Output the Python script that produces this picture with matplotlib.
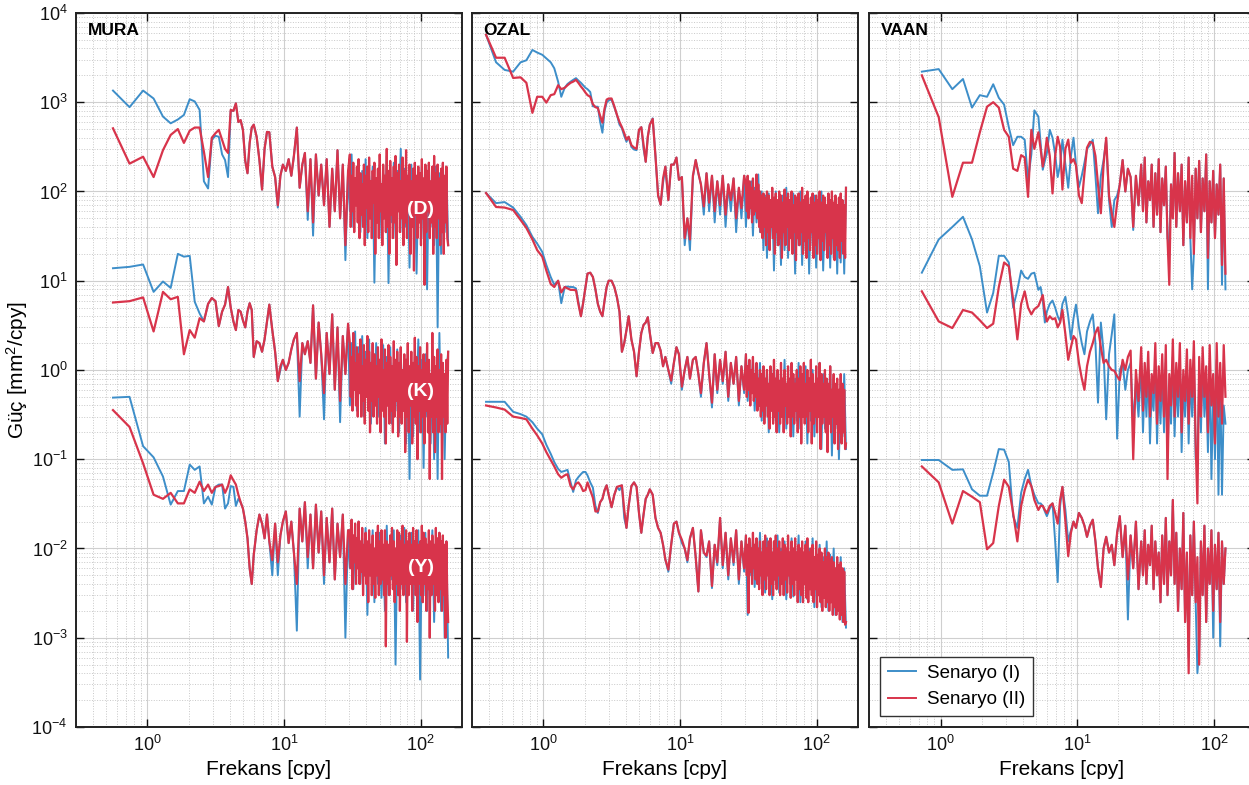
import matplotlib
matplotlib.use("Agg")
import numpy as np
import matplotlib.pyplot as plt
from matplotlib.ticker import LogLocator, NullFormatter


# =========================
# Fréquences [cpy]
# =========================

MURA_F_LO = [0.56, 0.74, 0.93, 1.11, 1.30, 1.48, 1.67, 1.85, 2.04, 2.22,
             2.41, 2.59, 2.78, 2.96, 3.15, 3.33, 3.52, 3.70, 3.89, 4.07,
             4.26, 4.44, 4.63, 4.81, 5.00]
OZAL_F_LO = [0.38, 0.45, 0.52, 0.60, 0.68, 0.75, 0.83, 0.90, 0.98, 1.05,
             1.13, 1.20, 1.28, 1.35, 1.43, 1.50, 1.58, 1.65, 1.73, 1.80,
             1.88, 1.95, 2.03, 2.10, 2.2, 2.3, 2.4, 2.5, 2.6, 2.7,
             2.8, 2.9, 3.0, 3.15, 3.3, 3.45, 3.6, 3.75, 3.9, 4.05,
             4.2, 4.4, 4.6, 4.8, 5.0]
VAAN_F_LO = [0.73, 0.97, 1.22, 1.46, 1.70, 1.94, 2.19, 2.43, 2.67, 2.92,
             3.16, 3.40, 3.65, 3.89, 4.13, 4.37, 4.62, 4.86]
F_MID = [5.2, 5.4, 5.6, 5.8, 6.0, 6.3, 6.6, 6.9, 7.2, 7.5,
         7.8, 8.2, 8.6, 9.0, 9.4, 9.8, 10.3, 10.8, 11.3, 11.8,
         12.4, 13.0, 13.6, 14.2, 14.9, 15.6, 16.3, 17.1, 17.9, 18.7,
         19.6, 20.5, 21.5, 22.5, 23.5, 24.6, 25.7, 26.9, 28.1, 29.4]
# grille haute fréquence (Senaryo I)
F_HI = [30.3, 31.2, 32.1, 33.1, 34.1, 35.1, 36.2, 37.3, 38.4, 39.5,
        40.7, 41.9, 43.2, 44.5, 45.8, 47.2, 48.6, 50.1, 51.6, 53.1,
        54.7, 56.4, 58.1, 59.8, 61.6, 63.5, 65.4, 67.3, 69.4, 71.4,
        73.6, 75.8, 78.1, 80.4, 82.8, 85.3, 87.9, 90.5, 93.2, 96.0,
        98.9, 101.9, 104.9, 108.1, 111.3, 114.7, 118.1, 121.6, 125.3, 129.0,
        132.9, 136.9, 141.0, 145.2, 149.6, 154.1, 158.7]
# grille haute fréquence plus fine (Senaryo II, MURA et OZAL)
F_HI2 = [30.3, 30.75, 31.2, 31.65, 32.1, 32.6, 33.1, 33.6, 34.1, 34.6,
         35.1, 35.65, 36.2, 36.75, 37.3, 37.85, 38.4, 38.95, 39.5, 40.1,
         40.7, 41.3, 41.9, 42.55, 43.2, 43.85, 44.5, 45.15, 45.8, 46.5,
         47.2, 47.9, 48.6, 49.35, 50.1, 50.85, 51.6, 52.35, 53.1, 53.9,
         54.7, 55.55, 56.4, 57.25, 58.1, 58.95, 59.8, 60.7, 61.6, 62.55,
         63.5, 64.45, 65.4, 66.35, 67.3, 68.35, 69.4, 70.4, 71.4, 72.5,
         73.6, 74.7, 75.8, 76.95, 78.1, 79.25, 80.4, 81.6, 82.8, 84.05,
         85.3, 86.6, 87.9, 89.2, 90.5, 91.85, 93.2, 94.6, 96.0, 97.45,
         98.9, 100.4, 101.9, 103.4, 104.9, 106.5, 108.1, 109.7, 111.3, 113.0,
         114.7, 116.4, 118.1, 119.85, 121.6, 123.45, 125.3, 127.15, 129.0, 130.95,
         132.9, 134.9, 136.9, 138.95, 141.0, 143.1, 145.2, 147.4, 149.6, 151.85,
         154.1, 156.4, 158.7]

MURA_F = MURA_F_LO + F_MID + F_HI
MURA_F2 = MURA_F_LO + F_MID + F_HI2
OZAL_F = OZAL_F_LO + F_MID + F_HI + [163.5]
OZAL_F2 = OZAL_F_LO + F_MID + F_HI2 + [161.1, 163.5]
VAAN_F = VAAN_F_LO + F_MID + F_HI[:48]


# =========================
# MURA  (I = Senaryo I, II = Senaryo II)
# =========================

MURA_D_I = [1350, 880, 1350, 1100, 690, 580, 640, 720, 1080, 1020,
            820, 130, 108, 380, 420, 410, 260, 225, 145, 800,
            800, 970, 600, 630, 490, 220, 160, 350, 520, 560,
            410, 225, 105, 300, 465, 460, 190, 145, 66, 150,
            200, 170, 230, 150, 250, 520, 110, 200, 270, 48,
            230, 32, 260, 90, 200, 70, 230, 40, 180, 60,
            290, 50, 200, 17, 170, 60, 260, 40, 140, 70,
            200, 35, 170, 55, 230, 30, 150, 70, 190, 9.5,
            140, 45, 200, 30, 160, 60, 250, 9.4, 130, 45,
            210, 30, 170, 60, 300, 35, 180, 40, 150, 14,
            200, 45, 160, 12, 140, 50, 190, 30, 170, 8,
            200, 40, 130, 25, 190, 3.0, 160, 20, 200, 35,
            180, 25]
MURA_D_II = [510, 205, 245, 145, 290, 430, 500, 350, 480, 520,
             520, 280, 145, 400, 450, 490, 380, 300, 270, 820,
             800, 970, 600, 630, 490, 220, 160, 350, 520, 560,
             410, 225, 105, 300, 465, 460, 190, 145, 70, 150,
             200, 170, 230, 150, 250, 520, 110, 200, 270, 60,
             230, 45, 260, 90, 200, 70, 230, 40, 180, 60,
             290, 50, 200, 25, 170,
             260, 40, 150, 60, 210, 35, 140, 70, 190, 45,
             230, 30, 160, 55, 120, 40, 200, 25, 150, 65,
             190, 35, 240, 50, 130, 30, 170, 75, 210, 20,
             140, 45, 180, 30, 260, 60, 120, 25, 200, 50,
             150, 35, 300, 40, 170, 20, 220, 55, 140, 30,
             190, 45, 250, 15, 160, 60, 200, 35, 130, 50,
             240, 25, 170, 45, 290, 30, 150, 60, 200, 20,
             130, 40, 180, 13, 210, 55, 150, 30, 190, 45,
             160, 25, 230, 50, 140, 9, 200, 35, 170, 60,
             210, 30, 130, 45, 190, 20, 250, 40, 160, 30,
             200, 50, 140, 25, 180, 35, 210, 20, 150, 45,
             190, 30, 25]

MURA_K_I = [13.8, 14.3, 15.2, 7.5, 9.8, 8.3, 20, 18.6, 19, 5.8,
            4.3, 3.5, 5.5, 6.4, 5.9, 3.1, 4.5, 5.4, 8.5, 5.0,
            3.5, 2.8, 4.7, 4.5, 3.6, 3.0, 4.5, 5.6, 4.7, 1.4,
            2.1, 2.0, 1.6, 2.2, 3.5, 5.4, 2.8, 1.6, 0.75, 1.0,
            1.3, 1.0, 1.2, 1.7, 2.2, 2.6, 0.3, 2.0, 1.5, 2.1,
            1.2, 5.3, 0.8, 3.4, 1.5, 0.28, 2.6, 0.9, 4.2, 0.6,
            3.0, 0.26, 2.4, 0.9, 3.3, 0.4, 2.0, 0.7, 2.7, 0.35,
            1.8, 0.6, 2.4, 0.3, 1.6, 0.5, 2.2, 0.25, 1.5, 0.45,
            2.0, 0.3, 1.3, 0.5, 1.9, 0.15, 1.4, 0.4, 1.8, 0.25,
            1.2, 0.35, 1.7, 0.2, 1.5, 0.4, 1.1, 0.15, 1.6, 0.06,
            1.2, 0.18, 1.4, 0.35, 2.2, 0.2, 1.3, 0.08, 1.5, 0.3,
            1.0, 0.15, 1.8, 0.1, 1.1, 0.06, 2.6, 0.2, 1.2, 0.1,
            0.9, 1.6]
MURA_K_II = [5.7, 5.9, 6.5, 2.7, 7.5, 6.2, 6.6, 1.5, 2.8, 2.3,
             3.8, 3.5, 5.5, 6.4, 5.9, 3.1, 4.5, 5.4, 8.5, 5.0,
             3.5, 2.8, 4.7, 4.5, 3.6, 3.0, 4.5, 5.6, 4.7, 1.4,
             2.1, 2.0, 1.6, 2.2, 3.5, 5.4, 2.8, 1.6, 0.75, 1.1,
             1.3, 1.0, 1.2, 1.7, 2.2, 2.6, 0.75, 2.0, 1.5, 2.1,
             1.2, 5.3, 0.8, 3.4, 1.5, 0.55, 2.6, 0.9, 4.2, 0.6,
             3.0, 0.45, 2.4, 0.9, 3.3,
             2.0, 0.5, 1.4, 0.35, 2.6, 0.6, 1.2, 0.4, 1.8, 0.3,
             1.5, 0.55, 2.2, 0.3, 1.1, 0.45, 1.9, 0.25, 1.3, 0.5,
             2.4, 0.35, 1.6, 0.2, 1.2, 0.45, 2.0, 0.3, 1.5, 0.4,
             1.1, 0.25, 1.8, 0.5, 1.3, 0.2, 2.2, 0.35, 1.0, 0.3,
             1.7, 0.15, 1.2, 0.4, 1.9, 0.25, 1.4, 0.35, 1.1, 0.2,
             2.1, 0.3, 1.3, 0.45, 1.6, 0.18, 1.2, 0.3, 1.8, 0.25,
             1.0, 0.35, 1.5, 0.12, 1.3, 0.3, 2.0, 0.2, 1.1, 0.4,
             1.6, 0.15, 1.2, 0.3, 2.3, 0.25, 1.4, 0.1, 1.1, 0.35,
             1.8, 0.2, 1.0, 0.3, 1.5, 0.15, 1.2, 0.35, 2.0, 0.2,
             1.3, 0.06, 0.9, 0.3, 2.6, 0.2, 1.4, 0.12, 1.1, 0.3,
             1.7, 0.2, 1.0, 0.25, 1.5, 0.06, 1.2, 0.3, 0.9, 0.2,
             1.3, 0.25, 1.6]

MURA_Y_I = [0.49, 0.5, 0.14, 0.105, 0.064, 0.031, 0.044, 0.044, 0.087, 0.076,
            0.083, 0.032, 0.038, 0.031, 0.049, 0.052, 0.052, 0.028, 0.032, 0.05,
            0.049, 0.03, 0.036, 0.033, 0.028, 0.02, 0.013, 0.006, 0.004, 0.0085,
            0.016, 0.024, 0.019, 0.013, 0.024, 0.012, 0.005, 0.019, 0.005, 0.014,
            0.02, 0.026, 0.0115, 0.02, 0.009, 0.0012, 0.028, 0.012, 0.033, 0.006,
            0.024, 0.006, 0.031, 0.009, 0.026, 0.004, 0.022, 0.007, 0.028, 0.0045,
            0.019, 0.008, 0.024, 0.001, 0.016, 0.006, 0.021, 0.0035, 0.014, 0.007,
            0.02, 0.004, 0.013, 0.0055, 0.017, 0.0018, 0.012, 0.005, 0.016, 0.0025,
            0.011, 0.004, 0.015, 0.0028, 0.01, 0.002, 0.018, 0.003, 0.012, 0.0045,
            0.016, 0.0005, 0.011, 0.003, 0.014, 0.0035, 0.017, 0.0025, 0.01, 0.004,
            0.015, 0.002, 0.012, 0.004, 0.016, 0.00034, 0.011, 0.003, 0.015, 0.002,
            0.012, 0.004, 0.016, 0.0015, 0.012, 0.003, 0.015, 0.002, 0.013, 0.001,
            0.012, 0.0006]
MURA_Y_II = [0.355, 0.23, 0.09, 0.04, 0.036, 0.042, 0.032, 0.032, 0.046, 0.042,
             0.056, 0.044, 0.052, 0.042, 0.049, 0.05, 0.052, 0.042, 0.05, 0.066,
             0.058, 0.052, 0.04, 0.033, 0.028, 0.02, 0.013, 0.006, 0.004, 0.0085,
             0.016, 0.024, 0.019, 0.013, 0.024, 0.012, 0.0074, 0.019, 0.007, 0.014,
             0.02, 0.026, 0.0115, 0.02, 0.009, 0.004, 0.028, 0.012, 0.033, 0.008,
             0.024, 0.006, 0.031, 0.009, 0.026, 0.005, 0.022, 0.007, 0.028, 0.0045,
             0.019, 0.008, 0.024, 0.004, 0.016,
             0.016, 0.006, 0.021, 0.0035, 0.014, 0.007, 0.019, 0.004, 0.013, 0.006,
             0.02, 0.004, 0.012, 0.0055, 0.017, 0.003, 0.011, 0.005, 0.015, 0.004,
             0.012, 0.0025, 0.016, 0.005, 0.011, 0.003, 0.014, 0.004, 0.01, 0.0028,
             0.015, 0.005, 0.018, 0.003, 0.012, 0.004, 0.016, 0.0045, 0.011, 0.003,
             0.016, 0.0008, 0.012, 0.004, 0.011, 0.003, 0.014, 0.005, 0.017, 0.0035,
             0.012, 0.0025, 0.01, 0.004, 0.016, 0.003, 0.015, 0.002, 0.012, 0.004,
             0.018, 0.003, 0.011, 0.004, 0.016, 0.0009, 0.012, 0.003, 0.015, 0.004,
             0.011, 0.002, 0.017, 0.004, 0.012, 0.003, 0.016, 0.0015, 0.011, 0.004,
             0.012, 0.003, 0.018, 0.0025, 0.015, 0.004, 0.013, 0.002, 0.011, 0.0035,
             0.016, 0.001, 0.012, 0.003, 0.014, 0.004, 0.011, 0.002, 0.017, 0.003,
             0.013, 0.0025, 0.015, 0.0035, 0.012, 0.002, 0.014, 0.003, 0.011, 0.001,
             0.012, 0.003, 0.0015]


# =========================
# OZAL
# =========================

OZAL_D_I = [5700, 2800, 2300, 2200, 2800, 2950, 3850, 3600, 3400, 3100,
            2800, 2400, 1700, 1150, 1450, 1600, 1700, 1780, 1860, 1750,
            1650, 1550, 1450, 1400, 1300, 900, 890, 890, 600, 455,
            800, 990, 1050, 1070, 880, 720, 560, 510, 420, 360,
            410, 315, 295, 290, 490, 525, 300, 215, 410, 560,
            660, 250, 90, 71, 125, 190, 80, 200, 200, 240,
            135, 145, 25, 50, 22, 145, 225, 160, 120, 55,
            160, 60, 150, 45, 130, 55, 150, 40, 120, 60,
            140, 35, 110, 50, 150, 40, 120, 55, 130, 32,
            110, 45, 155, 35, 100, 22, 90, 18, 95, 30,
            85, 13, 100, 25, 80, 15, 90, 22, 110, 18,
            75, 30, 95, 12, 80, 25, 100, 15, 70, 22,
            95, 12, 75, 25, 90, 14, 80, 20, 100, 13,
            70, 22, 85, 14, 75, 18, 90, 12, 70, 16,
            80, 12, 110]
OZAL_D_II = [5700, 3150, 3150, 1870, 1900, 1650, 760, 1150, 1150, 990,
             1200, 1230, 1550, 1400, 1450, 1550, 1650, 1700, 1780, 1650,
             1500, 1400, 1280, 1200, 1150, 950, 880, 860, 700, 590,
             850, 1070, 1100, 1100, 900, 720, 600, 525, 450, 380,
             410, 330, 310, 300, 490, 525, 330, 215, 410, 560,
             650, 250, 90, 71, 140, 190, 80, 200, 200, 240,
             135, 145, 30, 50, 29, 150, 225, 160, 120, 68,
             160, 75, 150, 60, 130, 70, 150, 55, 120, 80,
             140, 50, 110, 65, 150,
             120, 60, 150, 50, 130, 65, 110, 45, 140, 55,
             100, 60, 155, 50, 120, 40, 100, 35, 90, 30,
             95, 40, 85, 25, 100, 35, 90, 22, 80, 40,
             110, 30, 85, 20, 95, 35, 80, 25, 100, 30,
             90, 18, 75, 35, 105, 25, 85, 40, 95, 22,
             80, 30, 100, 20, 70, 35, 90, 17, 85, 30,
             95, 25, 75, 35, 110, 20, 80, 28, 90, 18,
             100, 30, 70, 22, 85, 35, 95, 18, 75, 25,
             90, 20, 80, 30, 100, 17, 75, 28, 90, 22,
             85, 35, 70, 18, 95, 25, 80, 20, 100, 30,
             75, 17, 90, 25, 70, 22, 85, 18, 95, 28,
             80, 20, 70, 18, 110]

OZAL_K_I = [96, 74, 76, 66, 52, 42, 31, 26, 21, 15,
            11, 9.0, 10, 5.6, 8.5, 8.6, 8.5, 8.5, 8.2, 5.8,
            4.0, 5.6, 8.5, 12, 12.3, 11, 8.0, 5.5, 4.5, 4.0,
            6.0, 8.5, 10, 10, 8.5, 6.5, 4.5, 1.6, 2.0, 2.8,
            4.0, 2.2, 1.6, 0.85, 1.6, 2.6, 3.2, 3.4, 3.9, 2.6,
            1.55, 2.0, 2.0, 1.65, 1.1, 1.4, 1.0, 0.7, 1.2, 1.8,
            1.5, 0.6, 1.0, 1.4, 0.8, 1.3, 1.4, 0.9, 0.5, 1.2,
            2.0, 0.9, 0.38, 1.5, 0.55, 1.3, 0.7, 1.6, 0.45, 1.2,
            0.7, 1.4, 0.4, 1.1, 0.55, 1.5, 0.45, 1.0, 0.6, 1.3,
            0.35, 0.9, 0.5, 1.2, 0.27, 0.8, 0.3, 1.0, 0.2, 0.7,
            0.35, 1.1, 0.27, 0.8, 0.2, 0.9, 0.3, 1.3, 0.22, 0.75,
            0.35, 1.0, 0.18, 0.8, 0.27, 1.2, 0.22, 0.7, 0.3, 1.1,
            0.15, 0.8, 0.27, 1.0, 0.18, 0.7, 0.3, 1.2, 0.13, 0.9,
            0.22, 0.7, 0.27, 1.1, 0.11, 0.8, 0.22, 0.6, 0.1, 0.7,
            0.18, 0.9, 0.13]
OZAL_K_II = [96, 67, 66, 62, 48, 39, 29, 22, 18.6, 13,
             9.2, 8.5, 10, 7.4, 8.5, 8.2, 7.9, 7.9, 7.8, 5.5,
             4.0, 5.6, 8.5, 12, 12.3, 11, 8.0, 5.5, 4.5, 4.0,
             6.0, 8.5, 10, 10, 8.5, 6.5, 4.5, 1.6, 2.0, 2.8,
             4.0, 2.2, 1.6, 0.85, 1.6, 2.6, 3.2, 3.4, 3.9, 2.6,
             1.55, 2.0, 2.0, 1.65, 1.1, 1.4, 1.0, 0.76, 1.2, 1.8,
             1.5, 0.65, 1.0, 1.4, 0.8, 1.3, 1.4, 0.9, 0.55, 1.2,
             2.0, 0.9, 0.43, 1.5, 0.6, 1.3, 0.75, 1.6, 0.5, 1.2,
             0.7, 1.4, 0.45, 1.1, 0.6,
             1.5, 0.5, 1.1, 0.6, 1.3, 0.4, 1.0, 0.55, 1.4, 0.45,
             0.9, 0.5, 1.2, 0.35, 0.8, 0.4, 1.0, 0.3, 0.9, 0.35,
             1.1, 0.25, 0.8, 0.4, 1.0, 0.3, 0.7, 0.22, 1.1, 0.35,
             0.9, 0.25, 1.3, 0.3, 0.8, 0.2, 1.0, 0.35, 0.75, 0.25,
             1.2, 0.3, 0.8, 0.2, 1.0, 0.4, 0.7, 0.25, 1.1, 0.3,
             0.8, 0.18, 1.2, 0.3, 0.9, 0.25, 0.7, 0.35, 1.0, 0.2,
             0.8, 0.3, 1.1, 0.15, 0.9, 0.3, 1.2, 0.25, 0.7, 0.3,
             1.0, 0.2, 0.8, 0.35, 1.3, 0.15, 0.9, 0.25, 0.7, 0.3,
             1.1, 0.2, 0.8, 0.3, 1.2, 0.13, 0.9, 0.25, 0.7, 0.3,
             1.0, 0.2, 0.8, 0.12, 0.7, 0.25, 1.1, 0.2, 0.6, 0.3,
             0.9, 0.15, 0.7, 0.25, 0.8, 0.13, 0.6, 0.2, 0.9, 0.15,
             0.7, 0.2, 0.6, 0.13, 0.15]

OZAL_Y_I = [0.44, 0.44, 0.44, 0.34, 0.32, 0.30, 0.26, 0.22, 0.19, 0.145,
            0.115, 0.093, 0.078, 0.072, 0.074, 0.076, 0.055, 0.043, 0.058, 0.063,
            0.068, 0.072, 0.072, 0.066, 0.055, 0.048, 0.03, 0.025, 0.033, 0.036,
            0.045, 0.051, 0.04, 0.029, 0.04, 0.049, 0.045, 0.051, 0.022, 0.017,
            0.03, 0.05, 0.055, 0.049, 0.025, 0.015, 0.024, 0.036, 0.04, 0.046,
            0.04, 0.022, 0.017, 0.015, 0.011, 0.0075, 0.0055, 0.011, 0.019, 0.02,
            0.015, 0.0115, 0.01, 0.007, 0.013, 0.017, 0.008, 0.0033, 0.016, 0.009,
            0.008, 0.012, 0.0036, 0.011, 0.0065, 0.022, 0.006, 0.015, 0.0045, 0.013,
            0.0065, 0.016, 0.004, 0.012, 0.0055, 0.014, 0.0018, 0.011, 0.005, 0.013,
            0.0037, 0.01, 0.0055, 0.015, 0.004, 0.011, 0.0032, 0.013, 0.0045, 0.009,
            0.0027, 0.012, 0.004, 0.014, 0.0032, 0.01, 0.0045, 0.012, 0.0027, 0.009,
            0.004, 0.013, 0.0029, 0.01, 0.0045, 0.014, 0.0025, 0.009, 0.004, 0.012,
            0.0027, 0.01, 0.0036, 0.013, 0.0022, 0.009, 0.0032, 0.011, 0.0022, 0.008,
            0.0036, 0.012, 0.002, 0.0085, 0.0027, 0.01, 0.0018, 0.007, 0.0022, 0.008,
            0.0015, 0.006, 0.0013]
OZAL_Y_II = [0.40, 0.38, 0.36, 0.30, 0.29, 0.28, 0.22, 0.185, 0.15, 0.12,
             0.098, 0.083, 0.068, 0.062, 0.066, 0.068, 0.05, 0.046, 0.053, 0.055,
             0.05, 0.044, 0.045, 0.055, 0.045, 0.037, 0.026, 0.026, 0.033, 0.036,
             0.045, 0.051, 0.04, 0.029, 0.04, 0.049, 0.05, 0.051, 0.027, 0.017,
             0.03, 0.05, 0.055, 0.049, 0.025, 0.015, 0.024, 0.036, 0.04, 0.046,
             0.04, 0.022, 0.017, 0.015, 0.011, 0.0075, 0.0058, 0.011, 0.019, 0.02,
             0.015, 0.0125, 0.01, 0.0074, 0.013, 0.017, 0.008, 0.0033, 0.016, 0.009,
             0.0083, 0.012, 0.0038, 0.011, 0.007, 0.022, 0.0065, 0.015, 0.005, 0.013,
             0.007, 0.016, 0.0045, 0.012, 0.006,
             0.014, 0.005, 0.011, 0.0019, 0.013, 0.0055, 0.01, 0.004, 0.015, 0.006,
             0.011, 0.0045, 0.013, 0.004, 0.01, 0.0035, 0.012, 0.005, 0.009, 0.003,
             0.012, 0.0045, 0.014, 0.0035, 0.01, 0.005, 0.012, 0.003, 0.013, 0.004,
             0.009, 0.003, 0.012, 0.0045, 0.014, 0.0035, 0.01, 0.005, 0.012, 0.003,
             0.009, 0.004, 0.013, 0.003, 0.011, 0.0045, 0.01, 0.0032, 0.014, 0.005,
             0.009, 0.0028, 0.012, 0.004, 0.01, 0.003, 0.013, 0.0045, 0.009, 0.0025,
             0.011, 0.0035, 0.01, 0.003, 0.012, 0.0025, 0.009, 0.004, 0.011, 0.0028,
             0.013, 0.0025, 0.009, 0.0035, 0.01, 0.003, 0.011, 0.0025, 0.008, 0.0035,
             0.012, 0.0022, 0.0085, 0.003, 0.01, 0.0025, 0.009, 0.002, 0.007, 0.0028,
             0.01, 0.0022, 0.008, 0.0025, 0.009, 0.002, 0.0075, 0.0025, 0.008, 0.0018,
             0.007, 0.0022, 0.006, 0.0018, 0.008, 0.002, 0.0065, 0.0016, 0.007, 0.0018,
             0.006, 0.0015, 0.0055, 0.0014, 0.0015]


# =========================
# VAAN
# =========================

VAAN_D_I = [2200, 2350, 1400, 1820, 870, 1200, 1150, 1590, 1120, 940,
            525, 330, 410, 410, 380, 135, 260, 810, 690, 350,
            175, 220, 270, 490, 400, 260, 145, 200, 380, 200,
            110, 250, 400, 200, 112, 150, 210, 300, 330, 380,
            150, 57, 150, 225, 380, 80, 40, 80, 90, 120,
            225, 100, 180, 145, 37, 150, 70, 200, 60, 240,
            45, 130, 80, 200, 40, 160, 55, 230, 35, 140,
            70, 190, 30, 25, 120, 50, 270, 40, 160, 60,
            200, 25, 130, 45, 240, 30, 8, 20, 180, 50,
            220, 35, 140, 60, 260, 8, 130, 45, 170, 30,
            120, 55, 200, 9, 140, 8]
VAAN_D_II = [2000, 680, 87, 210, 210, 460, 890, 1000, 870, 490,
             410, 180, 170, 255, 240, 87, 490, 300, 460, 300,
             190, 260, 400, 250, 95, 250, 410, 315, 105, 300,
             380, 210, 230, 195, 90, 74, 160, 310, 360, 350,
             250, 120, 57, 200, 400, 90, 57, 40, 74, 120,
             225, 100, 180, 145, 40, 150, 70, 200, 60, 240,
             45, 130, 80, 200, 40, 160, 55, 230, 35, 140,
             70, 190, 30, 9, 120, 50, 270, 40, 160, 60,
             200, 25, 130, 45, 240, 30, 150, 20, 180, 50,
             220, 35, 140, 60, 260, 18, 130, 45, 170, 30,
             120, 55, 200, 15, 140, 12]

VAAN_K_I = [12.3, 29, 40, 52, 29, 14.5, 4.4, 7.3, 19, 19,
            16, 5.0, 7.9, 13, 11, 10.5, 12, 12.3, 7.9, 8.5,
            6.1, 3.4, 4.5, 5.5, 6.0, 5.0, 4.0, 3.5, 5.5, 6.6,
            4.0, 2.2, 3.8, 5.4, 3.0, 2.0, 1.5, 2.7, 3.5, 4.2,
            2.0, 0.43, 3.4, 1.6, 0.28, 1.5, 2.5, 4.2, 0.17, 1.0,
            1.2, 0.6, 1.0, 1.2, 0.25, 0.7, 0.3, 1.2, 0.2, 0.8,
            0.3, 1.0, 0.15, 0.6, 0.35, 1.3, 0.15, 0.7, 0.25, 1.0,
            0.2, 1.2, 0.1, 0.6, 0.25, 1.4, 0.18, 0.8, 0.3, 1.3,
            0.12, 0.7, 0.3, 1.1, 0.15, 0.9, 0.3, 1.4, 0.1, 0.1,
            0.9, 0.2, 1.2, 0.3, 0.7, 0.12, 1.2, 0.06, 0.6, 0.1,
            1.3, 0.04, 0.8, 0.04, 0.4, 0.25]
VAAN_K_II = [7.6, 3.5, 2.95, 4.7, 4.4, 3.6, 2.95, 3.3, 8.5, 16,
             14.5, 6.1, 2.2, 5.5, 7.6, 5.0, 4.2, 4.8, 5.2, 6.0,
             6.9, 4.5, 3.5, 4.0, 3.7, 3.8, 3.0, 3.4, 4.7, 2.5,
             1.3, 1.8, 2.4, 2.2, 1.2, 0.81, 0.6, 1.1, 1.6, 2.0,
             2.6, 3.0, 1.8, 1.2, 1.3, 1.1, 1.0, 0.98, 0.85, 0.77,
             1.3, 1.0, 1.4, 1.65, 0.1, 1.0, 0.45, 1.8, 0.35, 1.2,
             0.5, 1.6, 0.3, 0.9, 0.55, 2.0, 0.25, 1.1, 0.45, 1.5,
             0.3, 1.9, 0.06, 0.9, 0.4, 2.2, 0.3, 1.2, 0.5, 2.0,
             0.2, 1.0, 0.45, 1.7, 0.25, 1.3, 0.5, 2.1, 0.15, 0.032,
             1.4, 0.3, 1.8, 0.5, 1.1, 0.2, 1.9, 0.4, 0.9, 0.15,
             2.0, 0.3, 1.2, 0.25, 1.9, 0.5]

VAAN_Y_I = [0.098, 0.098, 0.076, 0.077, 0.046, 0.039, 0.039, 0.071, 0.13, 0.128,
            0.093, 0.023, 0.017, 0.042, 0.06, 0.076, 0.05, 0.04, 0.032, 0.032,
            0.03, 0.026, 0.023, 0.028, 0.032, 0.012, 0.0042, 0.03, 0.049, 0.027,
            0.012, 0.016, 0.02, 0.017, 0.025, 0.022, 0.018, 0.0135, 0.018, 0.021,
            0.012, 0.006, 0.0037, 0.01, 0.0135, 0.009, 0.011, 0.0065, 0.015, 0.023,
            0.008, 0.018, 0.0016, 0.014, 0.006, 0.02, 0.0035, 0.012, 0.005, 0.016,
            0.004, 0.011, 0.0065, 0.018, 0.0035, 0.012, 0.005, 0.009, 0.0025, 0.014,
            0.004, 0.022, 0.003, 0.012, 0.005, 0.035, 0.004, 0.015, 0.002, 0.01,
            0.0035, 0.025, 0.0015, 0.009, 0.0006, 0.014, 0.003, 0.02, 0.0025, 0.0004,
            0.0008, 0.012, 0.003, 0.018, 0.0015, 0.01, 0.004, 0.016, 0.001, 0.011,
            0.0035, 0.015, 0.0008, 0.012, 0.004, 0.01]
VAAN_Y_II = [0.083, 0.055, 0.019, 0.044, 0.038, 0.033, 0.0098, 0.0115, 0.03, 0.059,
             0.049, 0.025, 0.012, 0.03, 0.045, 0.059, 0.05, 0.035, 0.027, 0.03,
             0.03, 0.027, 0.025, 0.03, 0.032, 0.025, 0.019, 0.035, 0.049, 0.02,
             0.0082, 0.015, 0.02, 0.017, 0.025, 0.022, 0.018, 0.0135, 0.018, 0.021,
             0.012, 0.006, 0.0037, 0.01, 0.0135, 0.009, 0.011, 0.0065, 0.015, 0.023,
             0.008, 0.018, 0.0045, 0.014, 0.006, 0.02, 0.0035, 0.012, 0.005, 0.016,
             0.004, 0.011, 0.0065, 0.018, 0.0035, 0.012, 0.005, 0.009, 0.0025, 0.014,
             0.004, 0.022, 0.003, 0.012, 0.005, 0.035, 0.004, 0.015, 0.002, 0.01,
             0.0035, 0.025, 0.0015, 0.009, 0.0004, 0.014, 0.003, 0.02, 0.0025, 0.008,
             0.0005, 0.012, 0.003, 0.018, 0.0015, 0.01, 0.004, 0.016, 0.002, 0.011,
             0.0035, 0.015, 0.0015, 0.012, 0.004, 0.01]


STATIONS = ["MURA", "OZAL", "VAAN"]
COMPONENTS = ["(D)", "(K)", "(Y)"]
SCENARIOS = ["Senaryo (I)", "Senaryo (II)"]

BLUE = "#3d8ec9"
RED = "#d8344b"


# =========================
# Figure
# =========================

plt.rcParams["font.family"] = ["Liberation Sans", "DejaVu Sans"]
plt.rcParams["mathtext.fontset"] = "custom"
plt.rcParams["mathtext.rm"] = "Liberation Sans"
plt.rcParams["mathtext.default"] = "regular"

fig = plt.figure(figsize=(12.49, 7.85), dpi=100)

bottom, height = 0.0739, 0.9096
width = 0.3090
lefts = [0.0608, 0.3779, 0.6958]

# (fréq. I, fréq. II, [(série I, série II) pour D, K, Y])
series = {
    "MURA": (MURA_F, MURA_F2, [(MURA_D_I, MURA_D_II), (MURA_K_I, MURA_K_II), (MURA_Y_I, MURA_Y_II)]),
    "OZAL": (OZAL_F, OZAL_F2, [(OZAL_D_I, OZAL_D_II), (OZAL_K_I, OZAL_K_II), (OZAL_Y_I, OZAL_Y_II)]),
    "VAAN": (VAAN_F, VAAN_F, [(VAAN_D_I, VAAN_D_II), (VAAN_K_I, VAAN_K_II), (VAAN_Y_I, VAAN_Y_II)]),
}

# position des étiquettes (D), (K), (Y) sur le premier panneau
comp_pos = [(100, 62), (100, 0.57), (100, 0.0061)]

axes = []
for i, name in enumerate(STATIONS):
    ax = fig.add_axes([lefts[i], bottom, width, height])
    axes.append(ax)
    f1, f2, comps = series[name]

    for s1, s2 in comps:
        ax.plot(f1, s1, color=BLUE, lw=1.4, label=SCENARIOS[0])
        ax.plot(f2, s2, color=RED, lw=1.6, label=SCENARIOS[1])

    ax.set_xscale("log")
    ax.set_yscale("log")
    ax.set_xlim(0.3, 200)
    ax.set_ylim(1e-4, 1e4)

    ax.set_xticks([1, 10, 100])
    ax.set_yticks([1e-4, 1e-3, 1e-2, 1e-1, 1, 10, 100, 1e3, 1e4])
    ax.yaxis.set_minor_locator(LogLocator(base=10, subs=np.arange(2, 10), numticks=100))
    ax.xaxis.set_minor_locator(LogLocator(base=10, subs=np.arange(2, 10), numticks=100))
    ax.xaxis.set_minor_formatter(NullFormatter())
    ax.yaxis.set_minor_formatter(NullFormatter())

    ax.grid(True, which="major", color="#cfcfcf", lw=0.8, ls="-")
    ax.grid(True, which="minor", color="#c8c8c8", lw=0.7, ls=":")
    ax.set_axisbelow(True)

    ax.tick_params(which="both", direction="in", top=True, right=True,
                   labelsize=13, colors="#111111", pad=6)
    ax.tick_params(which="major", length=6, width=1.0)
    ax.tick_params(which="minor", length=0)
    for sp in ax.spines.values():
        sp.set_linewidth(1.4)
        sp.set_color("#222222")

    if i > 0:
        ax.tick_params(labelleft=False)

    ax.set_xlabel("Frekans [cpy]", fontsize=15, labelpad=3)
    ax.text(0.03, 0.975, name, transform=ax.transAxes, fontsize=12.5,
            fontweight="bold", ha="left", va="center")

axes[0].set_ylabel("Güç [mm$^{2}$/cpy]", fontsize=15)
axes[0].yaxis.set_label_coords(-0.118, 0.5)

for lab, (x, y) in zip(COMPONENTS, comp_pos):
    axes[0].text(x, y, lab, color="white", fontsize=14, fontweight="bold",
                 ha="center", va="center", zorder=5)

handles, labels = axes[2].get_legend_handles_labels()
leg = axes[2].legend(handles[:2], labels[:2], loc="lower left", fontsize=13.5,
                     frameon=True, fancybox=False, framealpha=1,
                     edgecolor="#333333", handlelength=1.5, handletextpad=0.6,
                     borderaxespad=0.6)
leg.get_frame().set_linewidth(1.0)
for h in leg.get_lines():
    h.set_linewidth(1.4)

fig.savefig("out.png", dpi=100)
